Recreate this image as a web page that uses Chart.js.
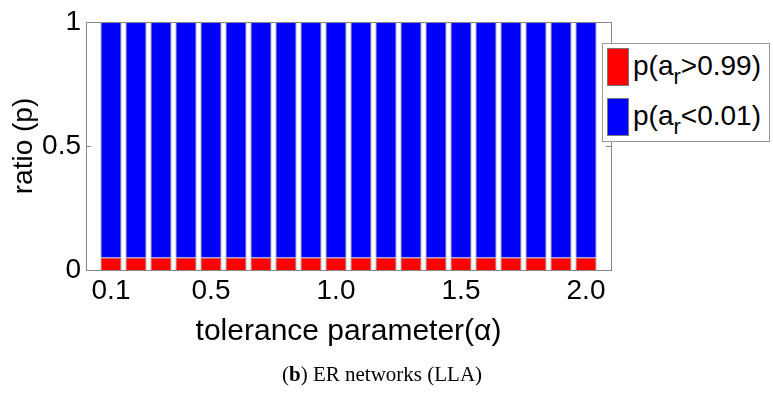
<!DOCTYPE html>
<html>
<head>
<meta charset="utf-8">
<script src="https://cdn.jsdelivr.net/npm/chart.js@4"></script>
<style>
  body { margin: 0; background: #fff; }
  #wrap { position: relative; width: 773px; height: 396px; }
  #chart { position: absolute; left: 0; top: 0; }
  #legend {
    position: absolute; left: 602px; top: 43px; width: 166px; height: 97px;
    background: #fff; border: 1px solid #999;
    font-family: "Liberation Sans", Arial, sans-serif; font-size: 28px; color: #000;
  }
  .item { position: absolute; left: 4px; height: 38px; line-height: 36px; }
  .item .sw { position: absolute; left: 0; top: 0; width: 22px; height: 38px; border: 1px solid #777; box-sizing: border-box; }
  .item .tx { position: absolute; left: 26px; top: 0; white-space: nowrap; }
  .item sub { font-size: 22px; vertical-align: -9px; line-height: 0; }
  #caption {
    position: absolute; left: 282px; top: 362px; white-space: nowrap;
    font-family: "Liberation Serif", "DejaVu Serif", serif; font-size: 21px; color: #000;
  }
</style>
</head>
<body>
<div id="wrap">
  <canvas id="chart" width="773" height="396"></canvas>
  <div id="legend"></div>
  <div id="caption">(<b>b</b>) ER networks (LLA)</div>
</div>
<script>
const alphas = [0.1, 0.2, 0.3, 0.4, 0.5, 0.6, 0.7, 0.8, 0.9, 1.0,
                1.1, 1.2, 1.3, 1.4, 1.5, 1.6, 1.7, 1.8, 1.9, 2.0]
const pHigh = [0.05, 0.05, 0.05, 0.05, 0.05, 0.05, 0.05, 0.05, 0.05, 0.05,
               0.05, 0.05, 0.05, 0.05, 0.05, 0.05, 0.05, 0.05, 0.05, 0.05]
const pLow = [0.95, 0.95, 0.95, 0.95, 0.95, 0.95, 0.95, 0.95, 0.95, 0.95,
              0.95, 0.95, 0.95, 0.95, 0.95, 0.95, 0.95, 0.95, 0.95, 0.95]
const xTicks = [0.1, 0.5, 1.0, 1.5, 2.0]
const yTicks = [0, 0.5, 1]
const seriesNames = [['p(a', 'r', '>0.99)'], ['p(a', 'r', '<0.01)']]

const font = { family: '"Liberation Sans", Arial, sans-serif', size: 28 }
const titleFont = { family: '"Liberation Sans", Arial, sans-serif', size: 30 }

// box round the plot area, like matlab
const boxPlugin = {
    id: 'box',
    afterDraw(chart) {
        const a = chart.chartArea
        const ctx = chart.ctx
        ctx.save()
        ctx.strokeStyle = '#888'
        ctx.lineWidth = 1
        ctx.strokeRect(Math.round(a.left) + 0.5, Math.round(a.top) + 0.5,
            Math.round(a.right - a.left), Math.round(a.bottom - a.top))
        // small inward tick marks at the y ticks, both sides
        yTicks.forEach(v => {
            let y = Math.round(chart.scales.y.getPixelForValue(v)) + 0.5
            ctx.beginPath()
            ctx.moveTo(a.left, y); ctx.lineTo(a.left + 5, y)
            ctx.moveTo(a.right, y); ctx.lineTo(a.right - 5, y)
            ctx.stroke()
        })
        ctx.restore()
    }
}

let chart = new Chart(document.getElementById('chart'), {
    type: 'bar',
    data: {
        datasets: [
            {
                label: seriesNames[0].join(''),
                data: alphas.map((a, i) => ({ x: a, y: pHigh[i] })),
                backgroundColor: '#ff0000',
                borderColor: 'rgba(0,0,0,0.55)',
                borderWidth: 1
            },
            {
                label: seriesNames[1].join(''),
                data: alphas.map((a, i) => ({ x: a, y: pLow[i] })),
                backgroundColor: '#0000ff',
                borderColor: 'rgba(0,0,0,0.55)',
                borderWidth: 1
            }
        ]
    },
    options: {
        responsive: false,
        animation: false,
        barPercentage: 0.84,
        categoryPercentage: 1,
        layout: { padding: { left: 0, top: 22, right: 162, bottom: 0 } },
        plugins: { legend: { display: false }, tooltip: { enabled: false } },
        scales: {
            x: {
                type: 'linear',
                stacked: true,
                offset: false,
                min: 0,
                max: 2.1,
                afterBuildTicks: scale => { scale.ticks = xTicks.map(v => ({ value: v })) },
                afterFit: scale => { scale.height = 126 },
                grid: { display: false, drawTicks: false },
                border: { color: '#888' },
                ticks: {
                    color: '#000', font: font, padding: 4, maxRotation: 0, autoSkip: false,
                    callback: v => Number(v).toFixed(1)
                },
                title: {
                    display: true, text: 'tolerance parameter(α)', color: '#000', font: titleFont,
                    padding: { top: 0, bottom: 46 }
                }
            },
            y: {
                stacked: true,
                min: 0,
                max: 1,
                afterBuildTicks: scale => { scale.ticks = yTicks.map(v => ({ value: v })) },
                afterFit: scale => { scale.width = 86 },
                grid: { display: false, drawTicks: false },
                border: { color: '#888' },
                ticks: { color: '#000', font: font, padding: 5, callback: v => String(v) },
                title: {
                    display: true, text: 'ratio (p)', color: '#000', font: font,
                    padding: { top: 7, bottom: 0 }
                }
            }
        }
    },
    plugins: [boxPlugin]
})

// html legend so the subscript r can be shown
function buildLegend() {
    let box = document.getElementById('legend')
    chart.data.datasets.forEach((ds, i) => {
        let parts = seriesNames[i]
        let item = document.createElement('div')
        item.className = 'item'
        item.style.top = (4 + i * 50) + 'px'
        item.innerHTML = '<span class="sw" style="background:' + ds.backgroundColor + '"></span>' +
            '<span class="tx">' + parts[0] + '<sub>' + parts[1] + '</sub>' + parts[2] + '</span>'
        box.appendChild(item)
    })
}
buildLegend()
</script>
</body>
</html>
